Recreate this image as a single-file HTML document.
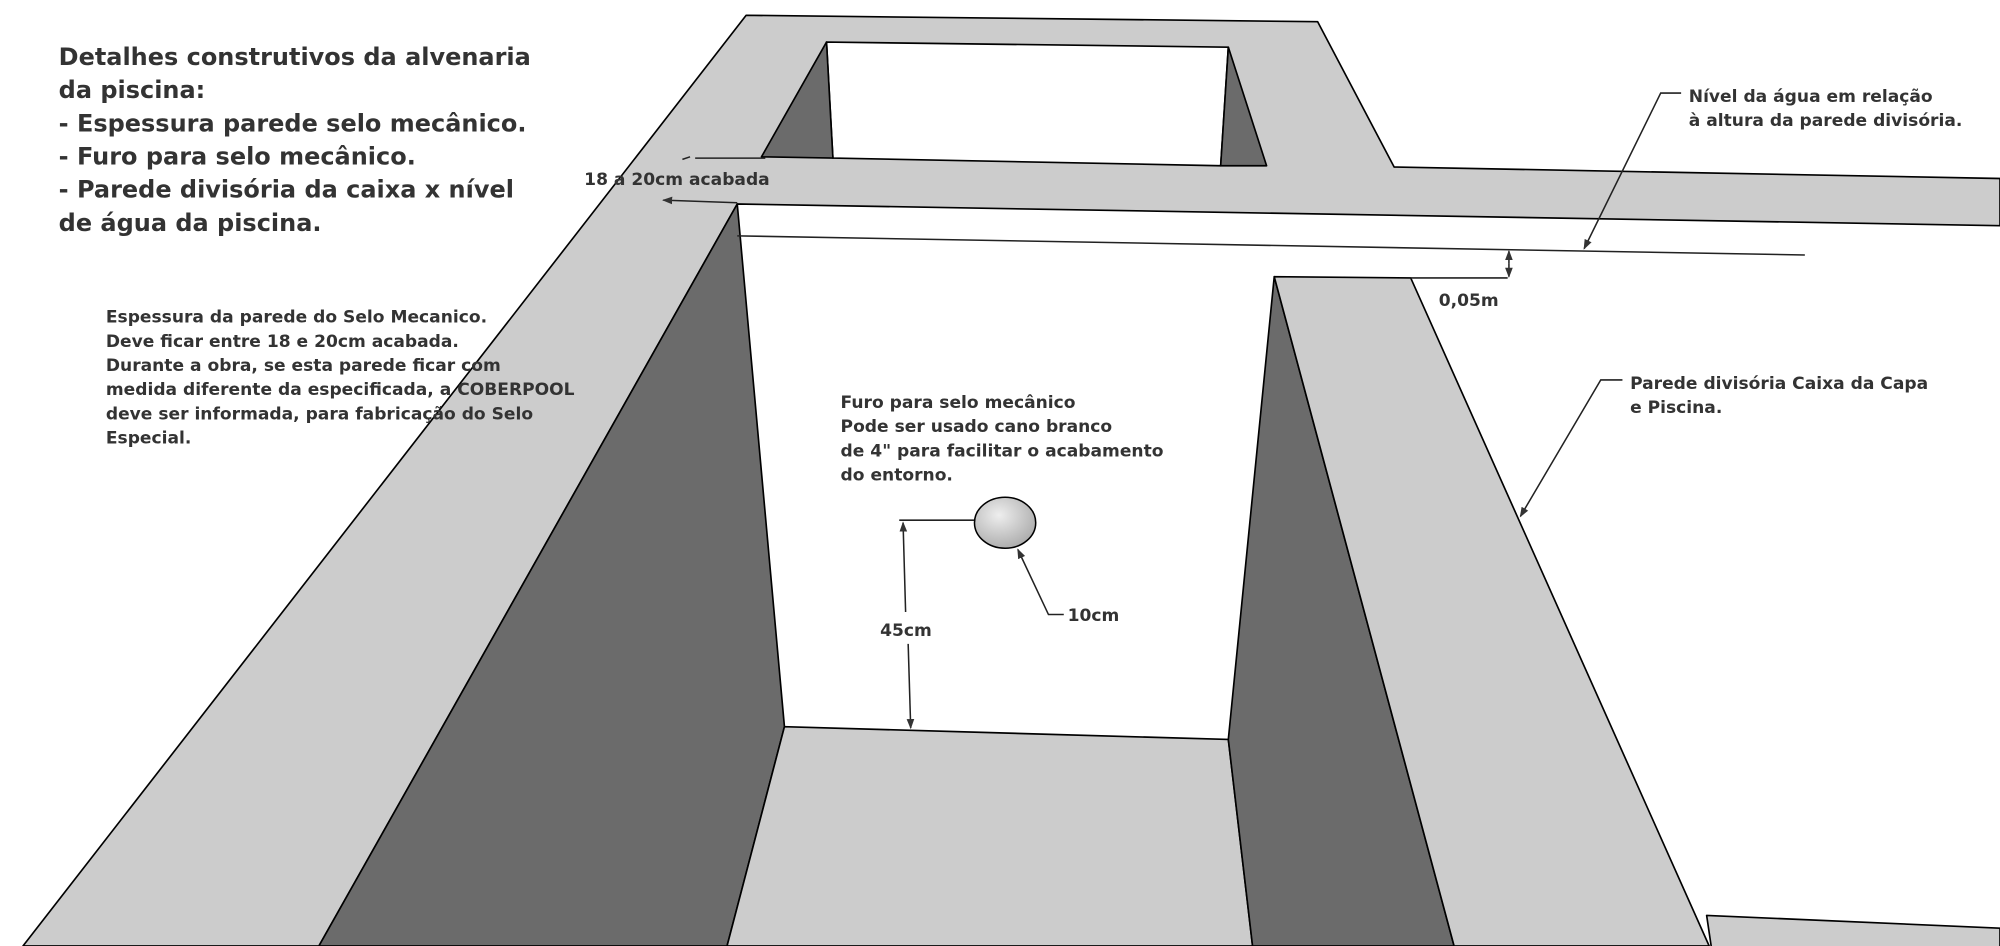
<!DOCTYPE html>
<html><head><meta charset="utf-8"><style>
html,body{margin:0;padding:0;background:#fff;}
svg{display:block}
text{font-family:"DejaVu Sans","Liberation Sans",sans-serif;font-weight:bold;fill:#333;}
</style></head><body>
<svg width="2000" height="946" viewBox="0 0 1568 742" preserveAspectRatio="none" xmlns="http://www.w3.org/2000/svg">
<defs>
<radialGradient id="g" cx="40%" cy="35%" r="70%"><stop offset="0" stop-color="#eee"/><stop offset="1" stop-color="#aaa"/></radialGradient>
<marker id="a" markerWidth="8" markerHeight="8" refX="7" refY="4" orient="auto" markerUnits="userSpaceOnUse"><path d="M0,1 L8,4 L0,7 z" fill="#333"/></marker>
</defs>
<g stroke="#000" stroke-width="1.3" stroke-linejoin="round">
<polygon points="18,742 585,12 1033,17 1093,131 1568,140 1568,177 578,160 250,742" fill="#cccccc"/>
<polygon points="648,33 963,37 957,130 653,124" fill="#fff"/>
<polygon points="648,33 597,123 653,124" fill="#6b6b6b"/>
<polygon points="963,37 993,130 957,130" fill="#6b6b6b"/>
<polygon points="578,160 250,742 570,742 615,570" fill="#6b6b6b"/>
<polygon points="615,570 963,580 982,742 570,742" fill="#cccccc"/>
<polygon points="999,217 963,580 982,742 1140,742" fill="#6b6b6b"/>
<polygon points="999,217 1106,218 1340,742 1140,742" fill="#cccccc"/>
<polygon points="1338,718 1568,728 1568,745 1342,745" fill="#cccccc"/>
</g>
<g stroke="#222" stroke-width="1.2" fill="none">
<line x1="578" y1="185" x2="1415" y2="200"/>
<line x1="1106" y1="218" x2="1182" y2="218"/>
<line x1="1183" y1="207" x2="1183" y2="197" marker-end="url(#a)"/>
<line x1="1183" y1="207" x2="1183" y2="217" marker-end="url(#a)"/>
<polyline points="1318,73 1302,73 1242,195" marker-end="url(#a)"/>
<polyline points="1272,298 1255,298 1192,405" marker-end="url(#a)"/>
<line x1="705" y1="408" x2="788" y2="408"/>
<line x1="710" y1="480" x2="708" y2="410" marker-end="url(#a)"/>
<line x1="712" y1="505" x2="714" y2="571" marker-end="url(#a)"/>
<polyline points="834,482 822,482 798,431" marker-end="url(#a)"/>
<line x1="545" y1="124" x2="600" y2="124"/>
<line x1="535" y1="125" x2="541" y2="123"/>
<line x1="578" y1="159" x2="520" y2="157" marker-end="url(#a)"/>
</g>
<ellipse cx="788" cy="410" rx="24" ry="20" fill="url(#g)" stroke="#000" stroke-width="1.2"/>
<g font-size="18.8">
<text x="46" y="51">Detalhes construtivos da alvenaria</text>
<text x="46" y="77">da piscina:</text>
<text x="46" y="103">- Espessura parede selo mecânico.</text>
<text x="46" y="129">- Furo para selo mecânico.</text>
<text x="46" y="155">- Parede divisória da caixa x nível</text>
<text x="46" y="181">de água da piscina.</text>
</g>
<g font-size="13.4">
<text x="83" y="253">Espessura da parede do Selo Mecanico.</text>
<text x="83" y="272">Deve ficar entre 18 e 20cm acabada.</text>
<text x="83" y="291">Durante a obra, se esta parede ficar com</text>
<text x="83" y="310">medida diferente da especificada, a COBERPOOL</text>
<text x="83" y="329">deve ser informada, para fabricação do Selo</text>
<text x="83" y="348">Especial.</text>
<text x="458" y="145">18 a 20cm acabada</text>
<text x="659" y="320">Furo para selo mecânico</text>
<text x="659" y="339">Pode ser usado cano branco</text>
<text x="659" y="358">de 4" para facilitar o acabamento</text>
<text x="659" y="377">do entorno.</text>
<text x="690" y="499">45cm</text>
<text x="837" y="487">10cm</text>
<text x="1128" y="240">0,05m</text>
<text x="1324" y="80">Nível da água em relação</text>
<text x="1324" y="99">à altura da parede divisória.</text>
<text x="1278" y="305">Parede divisória Caixa da Capa</text>
<text x="1278" y="324">e Piscina.</text>
</g>
</svg>
</body></html>
